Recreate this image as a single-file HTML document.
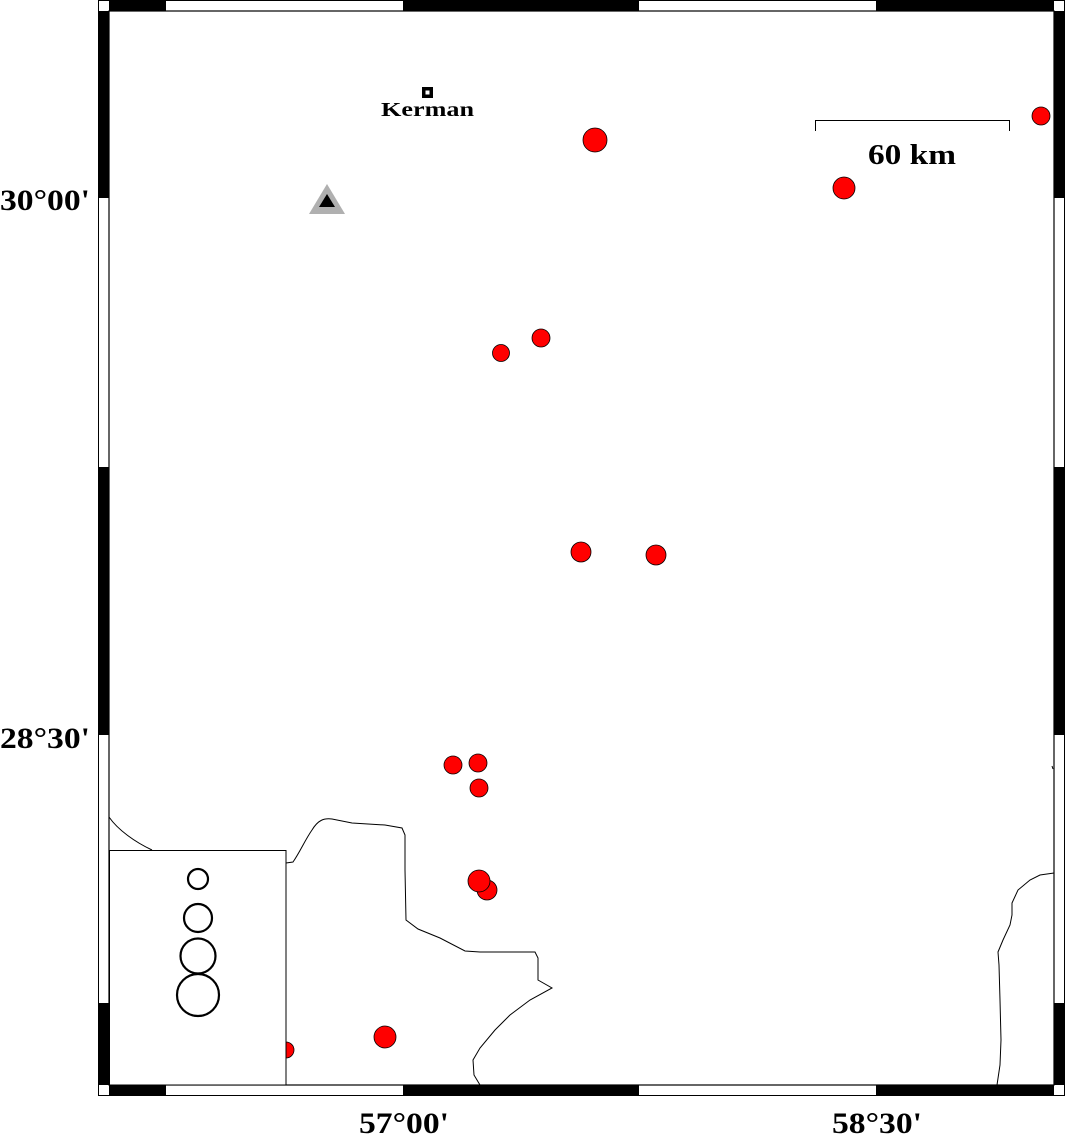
<!DOCTYPE html>
<html><head><style>html,body{margin:0;padding:0;background:#fff}svg{display:block}text{font-family:"Liberation Serif",serif}</style></head>
<body>
<svg width="1066" height="1135" xmlns="http://www.w3.org/2000/svg">
<rect x="0" y="0" width="1066" height="1135" fill="#fff"/>
<rect x="98.5" y="0.5" width="966" height="1095" fill="#fff" stroke="#000" stroke-width="1"/>
<rect x="109" y="1" width="57" height="10" fill="#000"/>
<rect x="403" y="1" width="236" height="10" fill="#000"/>
<rect x="876" y="1" width="178" height="10" fill="#000"/>
<rect x="109" y="1085" width="57" height="10" fill="#000"/>
<rect x="403" y="1085" width="236" height="10" fill="#000"/>
<rect x="876" y="1085" width="178" height="10" fill="#000"/>
<rect x="99" y="11" width="10" height="187" fill="#000"/>
<rect x="99" y="467" width="10" height="268" fill="#000"/>
<rect x="99" y="1003" width="10" height="82" fill="#000"/>
<rect x="1054" y="11" width="10" height="187" fill="#000"/>
<rect x="1054" y="467" width="10" height="268" fill="#000"/>
<rect x="1054" y="1003" width="10" height="82" fill="#000"/>
<rect x="109" y="11" width="945" height="1074" fill="none" stroke="#000" stroke-width="1.2"/>
<g fill="none" stroke="#000" stroke-width="1">
<path d="M109,817 C118,830 135,842 152,850"/>
<path d="M286,863 L293,862 C300,852 305,840 312,830 C318,820 324,818 332,819 L352,823 L385,825 L402,828 L405,835 L405,870 L406,920 L418,929 L440,938 L465,951 L480,952 L535,952 L538,958 L538,980 L552,988 L530,1000 L510,1015 L495,1030 L480,1048 L473,1060 L474,1075 L480,1085"/>
<path d="M1054,873 L1040,875 L1030,880 L1018,890 L1012,903 L1012,915 L1010,925 L1003,940 L998,952 L999,965 L1000,1000 L1001,1040 L1000,1065 L997,1085"/>
<path d="M1052,766 L1053,769"/>
</g>
<g fill="#f00" stroke="#000" stroke-width="0.8">
<circle cx="286" cy="1050" r="8"/>
<circle cx="595" cy="140" r="12"/>
<circle cx="844" cy="188" r="11"/>
<circle cx="1041" cy="116" r="9"/>
<circle cx="501" cy="353" r="8.5"/>
<circle cx="541" cy="338" r="9"/>
<circle cx="581" cy="552" r="10"/>
<circle cx="656" cy="555" r="10"/>
<circle cx="453" cy="765" r="9"/>
<circle cx="478" cy="763" r="9"/>
<circle cx="479" cy="788" r="9"/>
<circle cx="487" cy="890" r="10"/>
<circle cx="479" cy="881" r="11"/>
<circle cx="385" cy="1037" r="11"/>
</g>
<rect x="109.5" y="850.5" width="176.5" height="234.5" fill="#fff" stroke="#000" stroke-width="1"/>
<g fill="none" stroke="#000" stroke-width="2.2">
<circle cx="198" cy="879" r="10"/>
<circle cx="198" cy="918" r="14"/>
<circle cx="198" cy="956" r="17.5"/>
<circle cx="198" cy="995" r="21"/>
</g>
<polygon points="327,184 345,214 309,214" fill="#b0b0b0"/>
<polygon points="327,194 335,207 319,207" fill="#000"/>
<rect x="422" y="87" width="11" height="11" fill="#000"/>
<rect x="425.5" y="90.5" width="4" height="4" fill="#fff"/>
<text x="381" y="116" font-size="20" font-weight="bold" textLength="93" lengthAdjust="spacingAndGlyphs">Kerman</text>
<path d="M815.5,131 L815.5,120.5 L1009.5,120.5 L1009.5,131" fill="none" stroke="#000" stroke-width="1"/>
<text x="868" y="164" font-size="29" font-weight="bold" textLength="88" lengthAdjust="spacingAndGlyphs">60 km</text>
<g font-size="30" font-weight="bold">
<text x="0" y="210" textLength="90" lengthAdjust="spacingAndGlyphs">30°00'</text>
<text x="0" y="748" textLength="90" lengthAdjust="spacingAndGlyphs">28°30'</text>
<text x="359" y="1133" textLength="90" lengthAdjust="spacingAndGlyphs">57°00'</text>
<text x="832" y="1133" textLength="90" lengthAdjust="spacingAndGlyphs">58°30'</text>
</g>
</svg>
</body></html>
